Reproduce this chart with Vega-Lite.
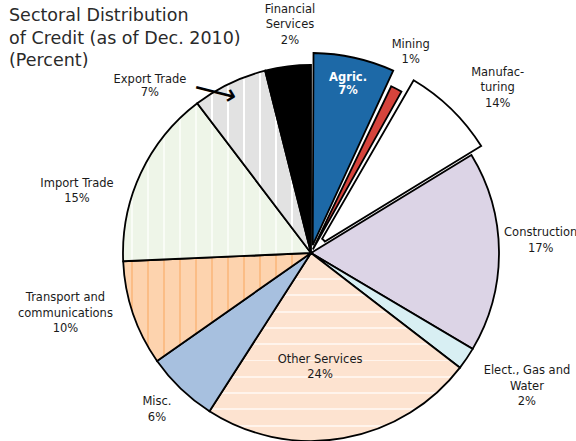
{
  "$schema": "https://vega.github.io/schema/vega-lite/v6.json",
  "width": 530,
  "height": 376,
  "autosize": {"type": "none"},
  "padding": {"left": 46, "top": 65, "right": 0, "bottom": 0},
  "background": "white",
  "title": {
    "text": ["Sectoral Distribution", "of Credit (as of Dec. 2010)", "(Percent)"],
    "anchor": "start", "frame": "group", "dx": -37, "offset": -91,
    "font": "DejaVu Sans", "fontSize": 17.5, "fontWeight": "normal", "color": "#2a2a2a", "lineHeight": 22.5
  },
  "config": {"view": {"stroke": null}},
  "data": {
    "values": [
      {"k": 1, "sector": "Agric.", "share": 6.94, "label": "Agric.\n7%"},
      {"k": 2, "sector": "Mining", "share": 1.39, "label": "Mining\n1%"},
      {"k": 3, "sector": "Manufacturing", "share": 7.94, "label": "Manufac-\nturing\n14%"},
      {"k": 4, "sector": "Construction", "share": 17.25, "label": "Construction\n17%"},
      {"k": 5, "sector": "Elect., Gas and Water", "share": 1.92, "label": "Elect., Gas and\nWater\n2%"},
      {"k": 6, "sector": "Other Services", "share": 23.64, "label": "Other Services\n24%"},
      {"k": 7, "sector": "Misc.", "share": 6.19, "label": "Misc.\n6%"},
      {"k": 8, "sector": "Transport and communications", "share": 9.03, "label": "Transport and\ncommunications\n10%"},
      {"k": 9, "sector": "Import Trade", "share": 15.36, "label": "Import Trade\n15%"},
      {"k": 10, "sector": "Export Trade", "share": 6.42, "label": "Export Trade\n7%"},
      {"k": 11, "sector": "Financial Services", "share": 3.92, "label": "Financial\nServices\n2%"}
    ]
  },
  "encoding": {
    "theta": {"field": "share", "type": "quantitative", "stack": true},
    "order": {"field": "k", "type": "quantitative"}
  },
  "layer": [
    {
      "mark": {"type": "arc", "stroke": "#000000", "strokeWidth": 1.8},
      "encoding": {
        "fill": {
          "condition": [
            {"test": "datum.sector === 'Transport and communications'", "value": {"gradient": "linear", "x1": 0, "y1": 0, "x2": 1, "y2": 0, "stops": [
              {"offset": 0, "color": "#fdd3ae"},
              {"offset": 0.0415, "color": "#fdd3ae"}, {"offset": 0.0415, "color": "#fbbd86"}, {"offset": 0.0521, "color": "#fbbd86"}, {"offset": 0.0521, "color": "#fdd3ae"},
              {"offset": 0.1267, "color": "#fdd3ae"}, {"offset": 0.1267, "color": "#fbbd86"}, {"offset": 0.1373, "color": "#fbbd86"}, {"offset": 0.1373, "color": "#fdd3ae"},
              {"offset": 0.2119, "color": "#fdd3ae"}, {"offset": 0.2119, "color": "#fbbd86"}, {"offset": 0.2225, "color": "#fbbd86"}, {"offset": 0.2225, "color": "#fdd3ae"},
              {"offset": 0.2971, "color": "#fdd3ae"}, {"offset": 0.2971, "color": "#fbbd86"}, {"offset": 0.3077, "color": "#fbbd86"}, {"offset": 0.3077, "color": "#fdd3ae"},
              {"offset": 0.3823, "color": "#fdd3ae"}, {"offset": 0.3823, "color": "#fbbd86"}, {"offset": 0.3929, "color": "#fbbd86"}, {"offset": 0.3929, "color": "#fdd3ae"},
              {"offset": 0.4675, "color": "#fdd3ae"}, {"offset": 0.4675, "color": "#fbbd86"}, {"offset": 0.4781, "color": "#fbbd86"}, {"offset": 0.4781, "color": "#fdd3ae"},
              {"offset": 0.5527, "color": "#fdd3ae"}, {"offset": 0.5527, "color": "#fbbd86"}, {"offset": 0.5633, "color": "#fbbd86"}, {"offset": 0.5633, "color": "#fdd3ae"},
              {"offset": 0.6379, "color": "#fdd3ae"}, {"offset": 0.6379, "color": "#fbbd86"}, {"offset": 0.6485, "color": "#fbbd86"}, {"offset": 0.6485, "color": "#fdd3ae"},
              {"offset": 0.7231, "color": "#fdd3ae"}, {"offset": 0.7231, "color": "#fbbd86"}, {"offset": 0.7337, "color": "#fbbd86"}, {"offset": 0.7337, "color": "#fdd3ae"},
              {"offset": 0.8083, "color": "#fdd3ae"}, {"offset": 0.8083, "color": "#fbbd86"}, {"offset": 0.8189, "color": "#fbbd86"}, {"offset": 0.8189, "color": "#fdd3ae"},
              {"offset": 0.8935, "color": "#fdd3ae"}, {"offset": 0.8935, "color": "#fbbd86"}, {"offset": 0.9041, "color": "#fbbd86"}, {"offset": 0.9041, "color": "#fdd3ae"},
              {"offset": 0.9787, "color": "#fdd3ae"}, {"offset": 0.9787, "color": "#fbbd86"}, {"offset": 0.9893, "color": "#fbbd86"}, {"offset": 0.9893, "color": "#fdd3ae"},
              {"offset": 1, "color": "#fdd3ae"}
            ]}},
            {"test": "datum.sector === 'Import Trade'", "value": {"gradient": "linear", "x1": 0, "y1": 0, "x2": 1, "y2": 0, "stops": [
              {"offset": 0, "color": "#eef5e8"},
              {"offset": 0.0415, "color": "#eef5e8"}, {"offset": 0.0415, "color": "#f9fcf6"}, {"offset": 0.0521, "color": "#f9fcf6"}, {"offset": 0.0521, "color": "#eef5e8"},
              {"offset": 0.1267, "color": "#eef5e8"}, {"offset": 0.1267, "color": "#f9fcf6"}, {"offset": 0.1373, "color": "#f9fcf6"}, {"offset": 0.1373, "color": "#eef5e8"},
              {"offset": 0.2119, "color": "#eef5e8"}, {"offset": 0.2119, "color": "#f9fcf6"}, {"offset": 0.2225, "color": "#f9fcf6"}, {"offset": 0.2225, "color": "#eef5e8"},
              {"offset": 0.2971, "color": "#eef5e8"}, {"offset": 0.2971, "color": "#f9fcf6"}, {"offset": 0.3077, "color": "#f9fcf6"}, {"offset": 0.3077, "color": "#eef5e8"},
              {"offset": 0.3823, "color": "#eef5e8"}, {"offset": 0.3823, "color": "#f9fcf6"}, {"offset": 0.3929, "color": "#f9fcf6"}, {"offset": 0.3929, "color": "#eef5e8"},
              {"offset": 0.4675, "color": "#eef5e8"}, {"offset": 0.4675, "color": "#f9fcf6"}, {"offset": 0.4781, "color": "#f9fcf6"}, {"offset": 0.4781, "color": "#eef5e8"},
              {"offset": 0.5527, "color": "#eef5e8"}, {"offset": 0.5527, "color": "#f9fcf6"}, {"offset": 0.5633, "color": "#f9fcf6"}, {"offset": 0.5633, "color": "#eef5e8"},
              {"offset": 0.6379, "color": "#eef5e8"}, {"offset": 0.6379, "color": "#f9fcf6"}, {"offset": 0.6485, "color": "#f9fcf6"}, {"offset": 0.6485, "color": "#eef5e8"},
              {"offset": 0.7231, "color": "#eef5e8"}, {"offset": 0.7231, "color": "#f9fcf6"}, {"offset": 0.7337, "color": "#f9fcf6"}, {"offset": 0.7337, "color": "#eef5e8"},
              {"offset": 0.8083, "color": "#eef5e8"}, {"offset": 0.8083, "color": "#f9fcf6"}, {"offset": 0.8189, "color": "#f9fcf6"}, {"offset": 0.8189, "color": "#eef5e8"},
              {"offset": 0.8935, "color": "#eef5e8"}, {"offset": 0.8935, "color": "#f9fcf6"}, {"offset": 0.9041, "color": "#f9fcf6"}, {"offset": 0.9041, "color": "#eef5e8"},
              {"offset": 1, "color": "#eef5e8"}
            ]}},
            {"test": "datum.sector === 'Export Trade'", "value": {"gradient": "linear", "x1": 0, "y1": 0, "x2": 1, "y2": 0, "stops": [
              {"offset": 0, "color": "#e2e2e2"},
              {"offset": 0.1205, "color": "#e2e2e2"}, {"offset": 0.1205, "color": "#ffffff"}, {"offset": 0.1425, "color": "#ffffff"}, {"offset": 0.1425, "color": "#e2e2e2"},
              {"offset": 0.2612, "color": "#e2e2e2"}, {"offset": 0.2612, "color": "#ffffff"}, {"offset": 0.2832, "color": "#ffffff"}, {"offset": 0.2832, "color": "#e2e2e2"},
              {"offset": 0.4019, "color": "#e2e2e2"}, {"offset": 0.4019, "color": "#ffffff"}, {"offset": 0.4239, "color": "#ffffff"}, {"offset": 0.4239, "color": "#e2e2e2"},
              {"offset": 0.5427, "color": "#e2e2e2"}, {"offset": 0.5427, "color": "#ffffff"}, {"offset": 0.5647, "color": "#ffffff"}, {"offset": 0.5647, "color": "#e2e2e2"},
              {"offset": 0.6834, "color": "#e2e2e2"}, {"offset": 0.6834, "color": "#ffffff"}, {"offset": 0.7054, "color": "#ffffff"}, {"offset": 0.7054, "color": "#e2e2e2"},
              {"offset": 0.8241, "color": "#e2e2e2"}, {"offset": 0.8241, "color": "#ffffff"}, {"offset": 0.8461, "color": "#ffffff"}, {"offset": 0.8461, "color": "#e2e2e2"},
              {"offset": 0.9648, "color": "#e2e2e2"}, {"offset": 0.9648, "color": "#ffffff"}, {"offset": 0.9868, "color": "#ffffff"}, {"offset": 0.9868, "color": "#e2e2e2"},
              {"offset": 1, "color": "#e2e2e2"}
            ]}},
            {"test": "datum.sector === 'Other Services'", "value": {"gradient": "linear", "x1": 0, "y1": 0, "x2": 0, "y2": 1, "stops": [
              {"offset": 0, "color": "#fde3d0"},
              {"offset": 0.1330, "color": "#fde3d0"}, {"offset": 0.1330, "color": "#fff4ec"}, {"offset": 0.1436, "color": "#fff4ec"}, {"offset": 0.1436, "color": "#fde3d0"},
              {"offset": 0.2197, "color": "#fde3d0"}, {"offset": 0.2197, "color": "#fff4ec"}, {"offset": 0.2303, "color": "#fff4ec"}, {"offset": 0.2303, "color": "#fde3d0"},
              {"offset": 0.3064, "color": "#fde3d0"}, {"offset": 0.3064, "color": "#fff4ec"}, {"offset": 0.3170, "color": "#fff4ec"}, {"offset": 0.3170, "color": "#fde3d0"},
              {"offset": 0.3931, "color": "#fde3d0"}, {"offset": 0.3931, "color": "#fff4ec"}, {"offset": 0.4037, "color": "#fff4ec"}, {"offset": 0.4037, "color": "#fde3d0"},
              {"offset": 0.4798, "color": "#fde3d0"}, {"offset": 0.4798, "color": "#fff4ec"}, {"offset": 0.4904, "color": "#fff4ec"}, {"offset": 0.4904, "color": "#fde3d0"},
              {"offset": 0.5665, "color": "#fde3d0"}, {"offset": 0.5665, "color": "#fff4ec"}, {"offset": 0.5771, "color": "#fff4ec"}, {"offset": 0.5771, "color": "#fde3d0"},
              {"offset": 0.6532, "color": "#fde3d0"}, {"offset": 0.6532, "color": "#fff4ec"}, {"offset": 0.6638, "color": "#fff4ec"}, {"offset": 0.6638, "color": "#fde3d0"},
              {"offset": 0.7399, "color": "#fde3d0"}, {"offset": 0.7399, "color": "#fff4ec"}, {"offset": 0.7505, "color": "#fff4ec"}, {"offset": 0.7505, "color": "#fde3d0"},
              {"offset": 0.8266, "color": "#fde3d0"}, {"offset": 0.8266, "color": "#fff4ec"}, {"offset": 0.8372, "color": "#fff4ec"}, {"offset": 0.8372, "color": "#fde3d0"},
              {"offset": 0.9133, "color": "#fde3d0"}, {"offset": 0.9133, "color": "#fff4ec"}, {"offset": 0.9239, "color": "#fff4ec"}, {"offset": 0.9239, "color": "#fde3d0"},
              {"offset": 1, "color": "#fde3d0"}
            ]}}
          ],
          "field": "sector", "type": "nominal", "legend": null,
          "scale": {
            "domain": ["Agric.", "Mining", "Manufacturing", "Construction", "Elect., Gas and Water", "Other Services", "Misc.", "Transport and communications", "Import Trade", "Export Trade", "Financial Services"],
            "range": ["#1d69a7", "#d5443c", "#ffffff", "#dcd4e6", "#d8eff3", "#fde3d0", "#a7c0df", "#fdd3ae", "#eef5e8", "#e2e2e2", "#000000"]
          }
        },
        "opacity": {"condition": {"test": "indexof(['Agric.', 'Mining', 'Manufacturing'], datum.sector) >= 0", "value": 0}, "value": 1}
      }
    },
    {
      "mark": {"type": "arc", "stroke": "#000000", "strokeWidth": 1.8, "padAngle": 0.025, "radius": 200, "radius2": 8},
      "encoding": {
        "fill": {"field": "sector", "type": "nominal", "legend": null},
        "opacity": {"condition": {"test": "datum.sector === 'Agric.'", "value": 1}, "value": 0}
      }
    },
    {
      "mark": {"type": "arc", "stroke": "#000000", "strokeWidth": 1.8, "padAngle": 0.025, "radius": 185, "radius2": 4},
      "encoding": {
        "fill": {"field": "sector", "type": "nominal", "legend": null},
        "opacity": {"condition": {"test": "datum.sector === 'Mining'", "value": 1}, "value": 0}
      }
    },
    {
      "mark": {"type": "arc", "stroke": "#000000", "strokeWidth": 1.8, "padAngle": 0.025, "radius": 201, "radius2": 18},
      "encoding": {
        "fill": {"field": "sector", "type": "nominal", "legend": null},
        "opacity": {"condition": {"test": "datum.sector === 'Manufacturing'", "value": 1}, "value": 0}
      }
    },
    {"mark": {"type": "text", "radius": 232, "thetaOffset": 0.0323, "dy": -12, "font": "DejaVu Sans", "fontSize": 11.5, "lineBreak": "\n", "lineHeight": 15.5, "baseline": "middle", "align": "center", "color": "#1a1a1a"},
     "encoding": {"text": {"condition": {"test": "datum.sector === 'Financial Services'", "field": "label"}, "value": ""}}},
    {"mark": {"type": "text", "radius": 224, "thetaOffset": -0.0183, "dy": -7.75, "font": "DejaVu Sans", "fontSize": 11.5, "lineBreak": "\n", "lineHeight": 15.5, "baseline": "middle", "align": "center", "color": "#1a1a1a"},
     "encoding": {"text": {"condition": {"test": "datum.sector === 'Mining'", "field": "label"}, "value": ""}}},
    {"mark": {"type": "text", "radius": 249, "thetaOffset": 0.075, "dy": -15.5, "font": "DejaVu Sans", "fontSize": 11.5, "lineBreak": "\n", "lineHeight": 15.5, "baseline": "middle", "align": "center", "color": "#1a1a1a"},
     "encoding": {"text": {"condition": {"test": "datum.sector === 'Manufacturing'", "field": "label"}, "value": ""}}},
    {"mark": {"type": "text", "radius": 230, "thetaOffset": -0.0463, "dy": -7.75, "font": "DejaVu Sans", "fontSize": 11.5, "lineBreak": "\n", "lineHeight": 15.5, "baseline": "middle", "align": "center", "color": "#1a1a1a"},
     "encoding": {"text": {"condition": {"test": "datum.sector === 'Construction'", "field": "label"}, "value": ""}}},
    {"mark": {"type": "text", "radius": 254, "thetaOffset": -0.041, "dy": -15.5, "font": "DejaVu Sans", "fontSize": 11.5, "lineBreak": "\n", "lineHeight": 15.5, "baseline": "middle", "align": "center", "color": "#1a1a1a"},
     "encoding": {"text": {"condition": {"test": "datum.sector === 'Elect., Gas and Water'", "field": "label"}, "value": ""}}},
    {"mark": {"type": "text", "radius": 115, "thetaOffset": 0.0934, "dy": -7.75, "font": "DejaVu Sans", "fontSize": 11.5, "lineBreak": "\n", "lineHeight": 15.5, "baseline": "middle", "align": "center", "color": "#1a1a1a"},
     "encoding": {"text": {"condition": {"test": "datum.sector === 'Other Services'", "field": "label"}, "value": ""}}},
    {"mark": {"type": "text", "radius": 220, "thetaOffset": 0.0105, "dy": -7.75, "font": "DejaVu Sans", "fontSize": 11.5, "lineBreak": "\n", "lineHeight": 15.5, "baseline": "middle", "align": "center", "color": "#1a1a1a"},
     "encoding": {"text": {"condition": {"test": "datum.sector === 'Misc.'", "field": "label"}, "value": ""}}},
    {"mark": {"type": "text", "radius": 253, "thetaOffset": 0.0846, "dy": -15.5, "font": "DejaVu Sans", "fontSize": 11.5, "lineBreak": "\n", "lineHeight": 15.5, "baseline": "middle", "align": "center", "color": "#1a1a1a"},
     "encoding": {"text": {"condition": {"test": "datum.sector === 'Transport and communications'", "field": "label"}, "value": ""}}},
    {"mark": {"type": "text", "radius": 242, "thetaOffset": -0.1806, "dy": -7.75, "font": "DejaVu Sans", "fontSize": 11.5, "lineBreak": "\n", "lineHeight": 15.5, "baseline": "middle", "align": "center", "color": "#1a1a1a"},
     "encoding": {"text": {"condition": {"test": "datum.sector === 'Import Trade'", "field": "label"}, "value": ""}}},
    {"mark": {"type": "text", "radius": 232, "thetaOffset": -0.3194, "dy": -6.5, "font": "DejaVu Sans", "fontSize": 11.5, "lineBreak": "\n", "lineHeight": 13, "baseline": "middle", "align": "center", "color": "#1a1a1a"},
     "encoding": {"text": {"condition": {"test": "datum.sector === 'Export Trade'", "field": "label"}, "value": ""}}},
    {"mark": {"type": "text", "radius": 187, "thetaOffset": -0.0899, "angle": 14, "font": "DejaVu Sans", "fontSize": 30, "baseline": "middle", "align": "center", "color": "#000000"},
     "encoding": {"text": {"condition": {"test": "datum.sector === 'Export Trade'", "value": "⟶"}, "value": ""}}},
    {"mark": {"type": "text", "radius": 174, "thetaOffset": -0.0035, "dy": -5, "font": "DejaVu Sans", "fontSize": 11.5, "fontWeight": "bold", "lineBreak": "\n", "lineHeight": 13, "baseline": "middle", "align": "center", "color": "#ffffff"},
     "encoding": {"text": {"condition": {"test": "datum.sector === 'Agric.'", "field": "label"}, "value": ""}}}
  ]
}
